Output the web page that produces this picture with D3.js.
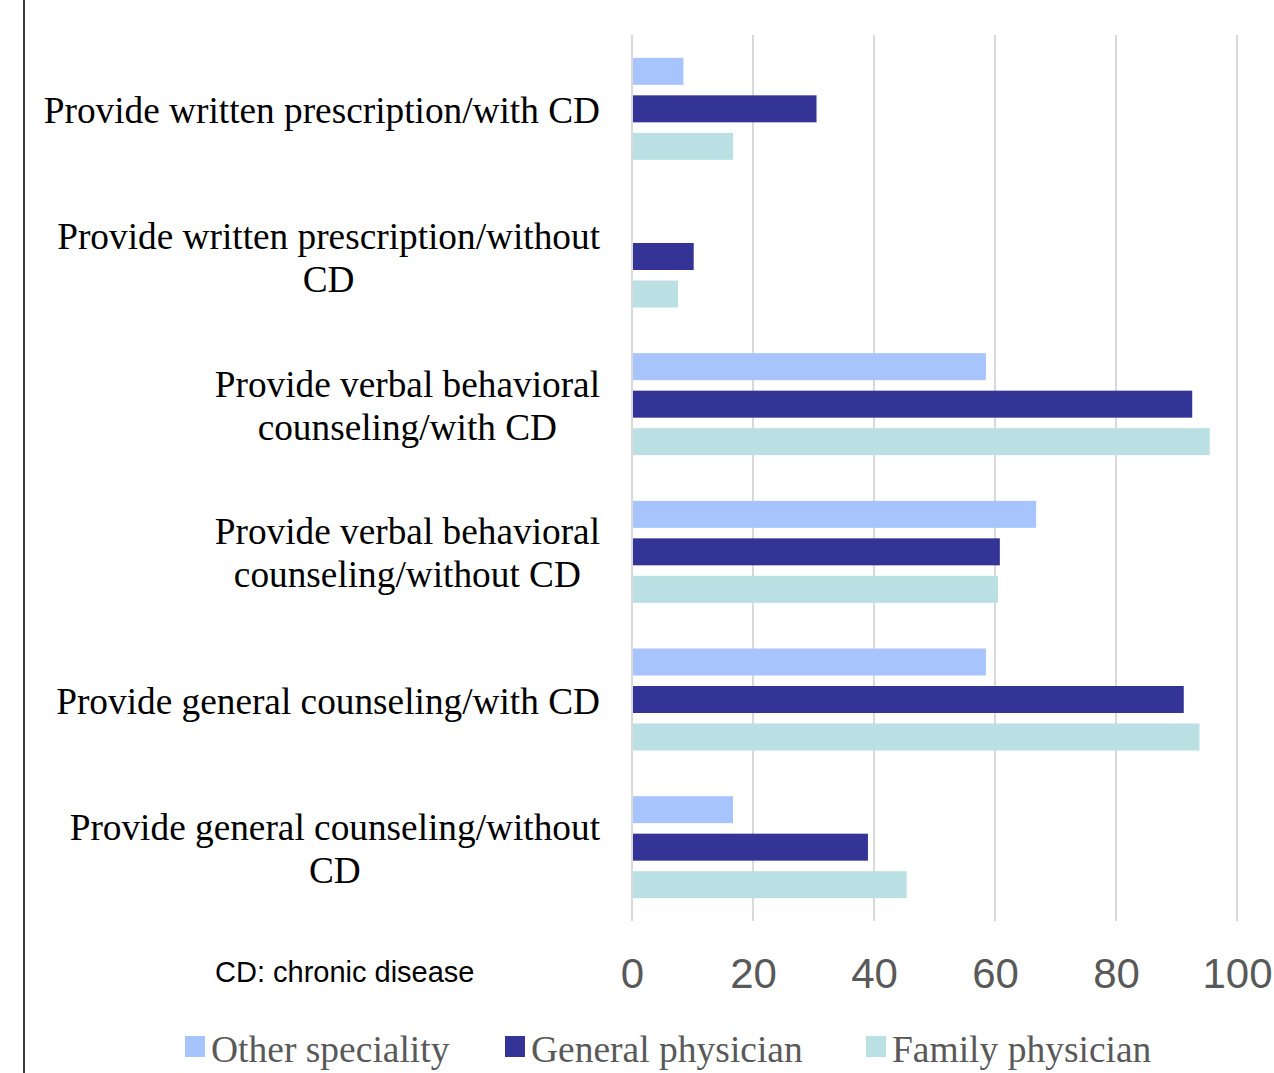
<!DOCTYPE html>
<html>
<head>
<meta charset="utf-8">
<script src="https://cdn.jsdelivr.net/npm/d3@7/dist/d3.min.js"></script>
<style>
  html, body { margin: 0; padding: 0; background: #fff; }
  svg { display: block; }
</style>
</head>
<body>
<svg id="chart" width="1274" height="1073"></svg>
<script>
// Categories, top to bottom
const categories = [
  "Provide written prescription/with CD",
  "Provide written prescription/without CD",
  "Provide verbal behavioral counseling/with CD",
  "Provide verbal behavioral counseling/without CD",
  "Provide general counseling/with CD",
  "Provide general counseling/without CD"
];

// Series names (legend order)
const seriesNames = ["Other speciality", "General physician", "Family physician"];

// Percent values per series, in category order
const otherSpeciality = [8.5, 0, 58.5, 66.8, 58.5, 16.7];
const generalPhysician = [30.5, 10.2, 92.6, 60.8, 91.2, 39.0];
const familyPhysician  = [16.7, 7.6, 95.5, 60.5, 93.8, 45.4];

const tickValues = [0, 20, 40, 60, 80, 100];
const footnote = "CD: chronic disease";

const seriesValues = [otherSpeciality, generalPhysician, familyPhysician];
const colors = ["#A8C4FC", "#343497", "#BBE0E3"];

const svg = d3.select("#chart");

// Left frame line
svg.append("line")
  .attr("x1", 24).attr("x2", 24)
  .attr("y1", 0).attr("y2", 1073)
  .attr("stroke", "#3a3a3a").attr("stroke-width", 2);

const x = d3.scaleLinear().domain([0, 100]).range([632, 1237]);
const y = d3.scaleBand().domain(categories).range([35, 921]).padding(0);
const groupSpan = 102;
const inner = d3.scaleBand()
  .domain(seriesNames)
  .range([y.bandwidth() / 2 - groupSpan / 2, y.bandwidth() / 2 + groupSpan / 2])
  .paddingInner(0.28)
  .paddingOuter(0);

// Vertical gridlines
svg.append("g")
  .selectAll("line")
  .data(tickValues)
  .join("line")
  .attr("x1", d => x(d)).attr("x2", d => x(d))
  .attr("y1", y.range()[0]).attr("y2", y.range()[1])
  .attr("stroke", "#d9d9d9").attr("stroke-width", 2);

// Bars
const rows = categories.map((c, i) => ({
  cat: c,
  vals: seriesNames.map((s, j) => ({ series: s, idx: j, value: seriesValues[j][i] }))
}));

const groups = svg.append("g")
  .selectAll("g")
  .data(rows)
  .join("g")
  .attr("transform", d => `translate(0,${y(d.cat)})`);

groups.selectAll("rect")
  .data(d => d.vals.filter(v => v.value > 0))
  .join("rect")
  .attr("x", x(0) + 1)
  .attr("y", d => inner(d.series))
  .attr("width", d => x(d.value) - x(0) - 1)
  .attr("height", inner.bandwidth())
  .attr("fill", d => colors[d.idx]);

// Category labels: wrapped, lines centred within a block right-aligned to the axis
const labelFont = "37.3px 'Liberation Serif', 'Times New Roman', serif";
const rightEdge = 600;
const maxWidth = 570;
const lineH = 43;

const measure = svg.append("text")
  .style("font", labelFont)
  .attr("visibility", "hidden");
function textWidth(s) { measure.text(s); return measure.node().getComputedTextLength(); }

function wrap(str) {
  const words = str.split(" ");
  const lines = [];
  let cur = "";
  words.forEach(w => {
    const t = cur ? cur + " " + w : w;
    if (textWidth(t) > maxWidth && cur) { lines.push(cur); cur = w; }
    else cur = t;
  });
  if (cur) lines.push(cur);
  return lines;
}

categories.forEach(c => {
  const lines = wrap(c);
  const widths = lines.map(textWidth);
  const blockW = d3.max(widths);
  const cx = rightEdge - blockW / 2;
  const cy = y(c) + y.bandwidth() / 2 + 1;
  const t = svg.append("text")
    .style("font", labelFont)
    .attr("fill", "#000")
    .attr("text-anchor", "middle");
  lines.forEach((ln, k) => {
    t.append("tspan")
      .attr("x", cx)
      .attr("y", cy + (k - (lines.length - 1) / 2) * lineH)
      .attr("dy", "0.35em")
      .text(ln);
  });
});
measure.remove();

// X axis tick labels
const xAxis = d3.axisBottom(x).tickValues(tickValues).tickSize(0).tickPadding(0);
const axisG = svg.append("g")
  .attr("transform", "translate(0,958)")
  .call(xAxis);
axisG.select(".domain").remove();
axisG.selectAll("text")
  .attr("y", 0)
  .attr("dy", "0.71em")
  .style("font-family", "'Liberation Sans', Arial, sans-serif")
  .style("font-size", "42px")
  .attr("fill", "#595959");

// Footnote
svg.append("text")
  .attr("x", 215).attr("y", 972)
  .attr("dy", "0.35em")
  .style("font-family", "'Liberation Sans', Arial, sans-serif")
  .style("font-size", "29px")
  .attr("fill", "#000")
  .text(footnote);

// Legend
const legendX = [185, 505, 866];
const legend = svg.append("g")
  .selectAll("g")
  .data(seriesNames)
  .join("g")
  .attr("transform", (d, i) => `translate(${legendX[i]},1049)`);
legend.append("rect")
  .attr("x", 0).attr("y", -13)
  .attr("width", 20).attr("height", 21)
  .attr("fill", (d, i) => colors[i]);
legend.append("text")
  .attr("x", 26).attr("y", 0)
  .attr("dy", "0.35em")
  .style("font-family", "'Liberation Serif', 'Times New Roman', serif")
  .style("font-size", "37.5px")
  .attr("fill", "#595959")
  .text(d => d);
</script>
</body>
</html>
